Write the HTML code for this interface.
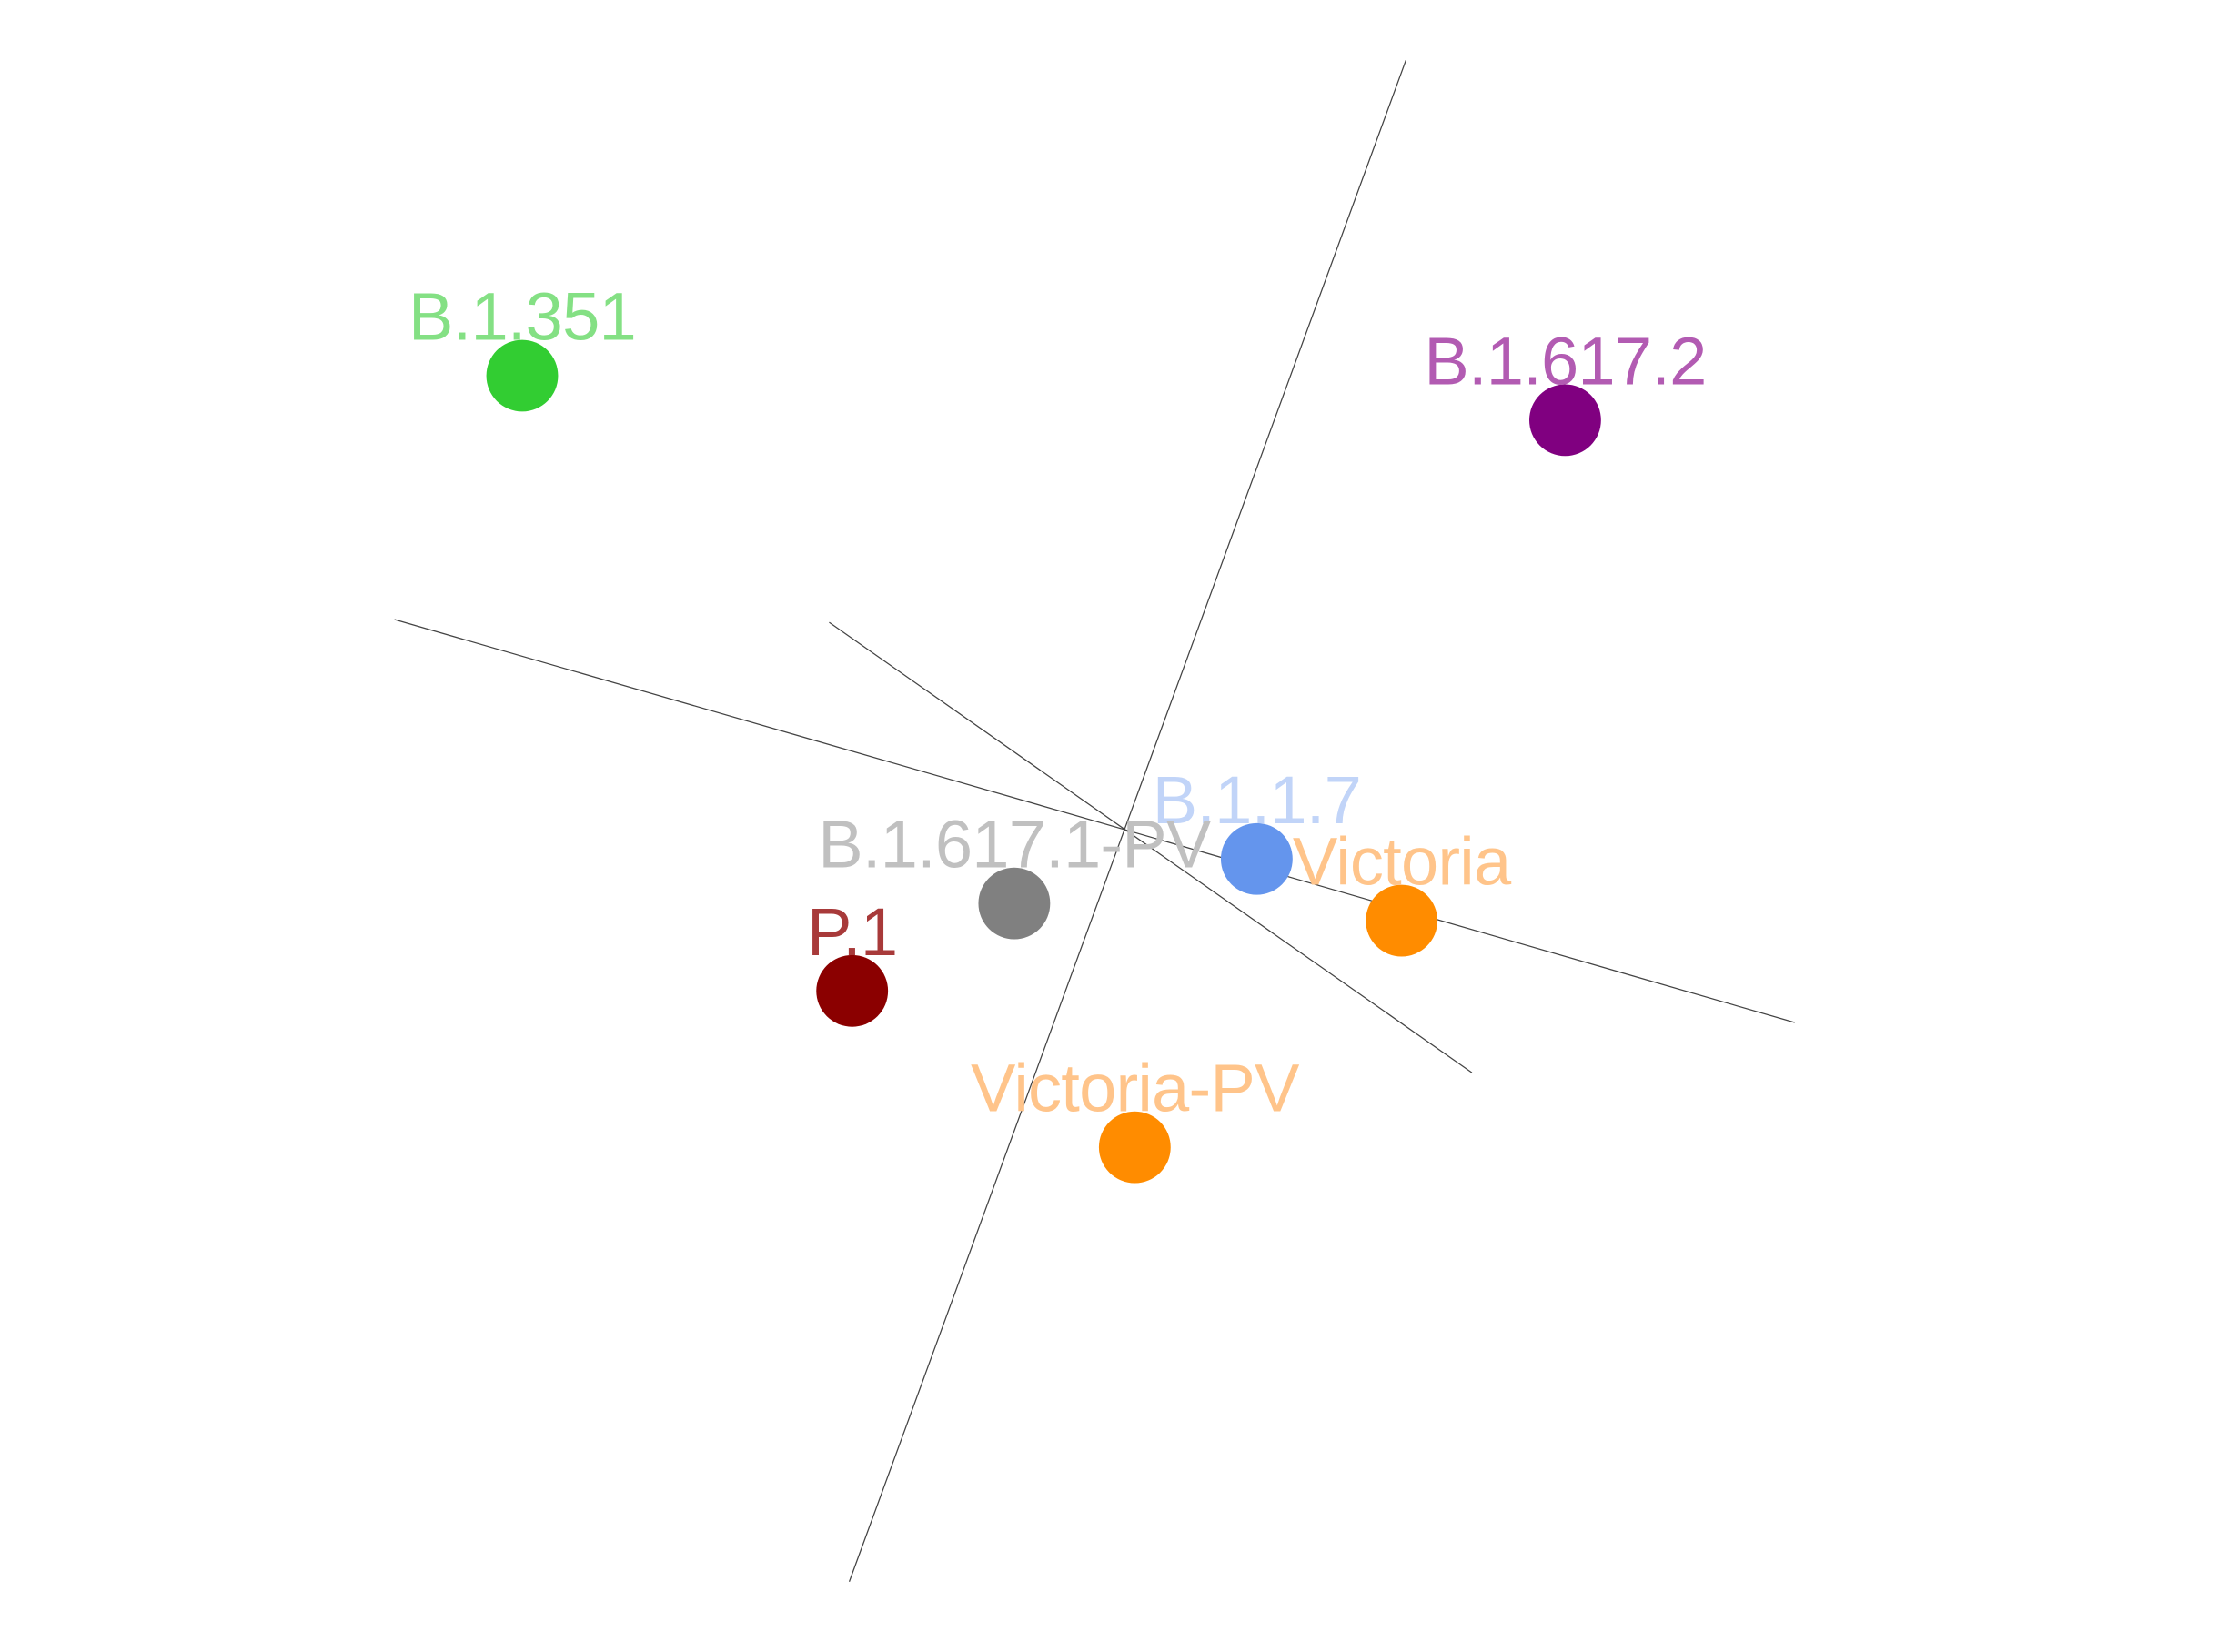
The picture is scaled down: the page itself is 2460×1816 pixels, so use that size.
<!DOCTYPE html>
<html>
<head>
<meta charset="utf-8">
<style>
  html, body { margin: 0; padding: 0; background: #ffffff; }
  svg { display: block; }
  text { font-family: "Liberation Sans", "DejaVu Sans", sans-serif; }
</style>
</head>
<body>
<svg id="chart" width="2460" height="1816" viewBox="0 0 1560 1152" preserveAspectRatio="none" xmlns="http://www.w3.org/2000/svg">
  <g id="axes-layer"></g>
  <g id="points-layer"></g>
  <g id="labels-layer"></g>
</svg>
<script>
const names = ["B.1.351", "B.1.617.2", "B.1.1.7", "Victoria", "B.1.617.1-PV", "P.1", "Victoria-PV"];
const xValues = [-4.16, 3.11, 0.96, 1.97, -0.73, -1.86, 0.11];
const yValues = [3.38, 3.07, 0.01, -0.42, -0.30, -0.91, -2.00];
const pointColors = ["#32cd32", "#800080", "#6495ed", "#ff8c00", "#808080", "#8b0000", "#ff8c00"];
const labelColors = ["#84e084", "#b25bb2", "#c1d4f8", "#ffc48a", "#c0c0c0", "#a83a3a", "#ffc48a"];
const axisStartX = [2.00, -5.05, -2.02];
const axisStartY = [5.58, 1.68, 1.66];
const axisEndX = [-1.88, 4.71, 2.46];
const axisEndY = [-5.03, -1.13, -1.48];

function xScale(v) { return 780 + v * 100; }
function yScale(v) { return 600 - v * 100; }

const NS = "http://www.w3.org/2000/svg";
const axesLayer = document.getElementById("axes-layer");
const pointsLayer = document.getElementById("points-layer");
const labelsLayer = document.getElementById("labels-layer");

for (let i = 0; i < axisStartX.length; i++) {
  const ln = document.createElementNS(NS, "line");
  ln.setAttribute("x1", xScale(axisStartX[i]));
  ln.setAttribute("y1", yScale(axisStartY[i]));
  ln.setAttribute("x2", xScale(axisEndX[i]));
  ln.setAttribute("y2", yScale(axisEndY[i]));
  ln.setAttribute("stroke", "#444");
  ln.setAttribute("stroke-width", "0.8");
  
  
  axesLayer.appendChild(ln);
}

for (let i = 0; i < names.length; i++) {
  const c = document.createElementNS(NS, "circle");
  c.setAttribute("cx", xScale(xValues[i]));
  c.setAttribute("cy", yScale(yValues[i]));
  c.setAttribute("r", 25);
  c.setAttribute("fill", pointColors[i]);
  
  
  pointsLayer.appendChild(c);

  const t = document.createElementNS(NS, "text");
  t.setAttribute("x", xScale(xValues[i]));
  t.setAttribute("y", yScale(yValues[i]) - 25);
  t.setAttribute("text-anchor", "middle");
  t.setAttribute("font-size", "47");
  t.setAttribute("letter-spacing", "-0.5");
  t.setAttribute("fill", labelColors[i]);
  t.textContent = names[i];
  
  
  labelsLayer.appendChild(t);
}
</script>
</body>
</html>
